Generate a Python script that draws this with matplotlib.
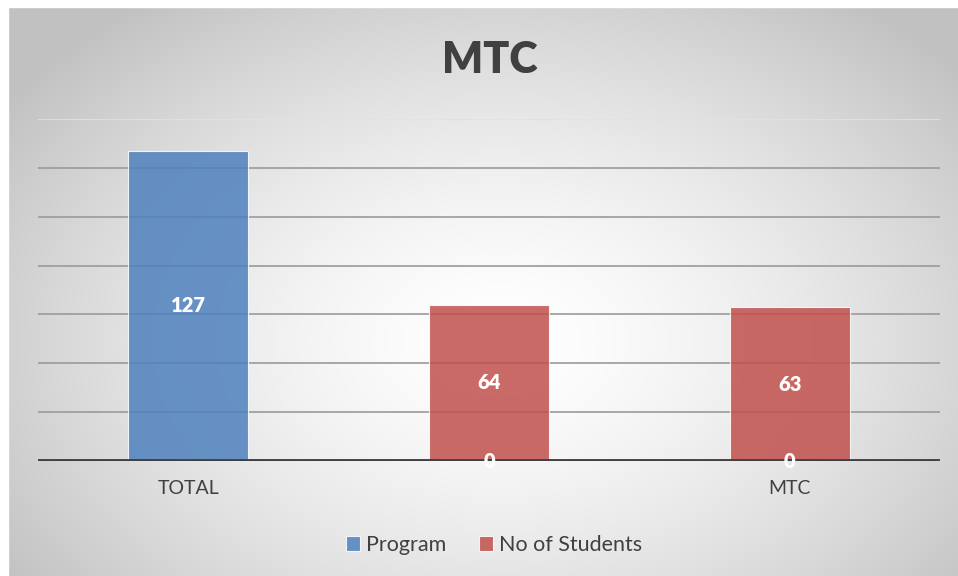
from matplotlib import pyplot as plt
from matplotlib.patches import Rectangle
import numpy as np

plt.rcParams['font.family'] = ['Lato', 'DejaVu Sans']

categories = ['TOTAL', '', 'MTC']
program = [127, 0, 0]
students = [np.nan, 64, 63]
series_names = ['Program', 'No of Students']
colors = ['#4F81BD', '#C0504D']
text_color = '#404040'

fig = plt.figure(figsize=(9.58, 5.76), dpi=100)

# radial grey background of the chart area
bg = fig.add_axes([0, 0, 1, 1], zorder=-10)
h, w = 576, 958
yy, xx = np.mgrid[0:h, 0:w]
r = np.sqrt(((xx - 500) / 600.0) ** 2 + ((yy - 340) / 420.0) ** 2)
shade = 1.0 - 0.24 * np.clip(r, 0, 1) ** 1.5
img = np.dstack([shade, shade, shade])
bg.imshow(img, aspect='auto', extent=(0, w, h, 0))
bg.add_patch(Rectangle((0, 0), w, 7, color='white'))
bg.add_patch(Rectangle((0, 0), 8, h, color='white'))
bg.set_xlim(0, w)
bg.set_ylim(h, 0)
bg.axis('off')

ax = fig.add_axes([38 / w, (h - 461) / h, (940 - 38) / w, (461 - 119) / h])
ax.patch.set_alpha(0)
x = np.arange(len(categories))
bar_w = 0.4

ax.set_ylim(0, 140)
ax.set_xlim(-0.5, len(categories) - 0.5)
for yv in range(20, 141, 20):
    c = '#e2e2e2' if yv == 140 else '#9a9a9a'
    ax.axhline(yv, color=c, lw=1.2, zorder=1)

b1 = ax.bar(x, program, bar_w, color=colors[0], alpha=0.85,
            edgecolor='#ffffff', linewidth=0.8, zorder=2, label=series_names[0])
b2 = ax.bar(x, students, bar_w, color=colors[1], alpha=0.85,
            edgecolor='#ffffff', linewidth=0.8, zorder=2, label=series_names[1])

for bars, vals in ((b1, program), (b2, students)):
    for rect, v in zip(bars, vals):
        if np.isnan(v):
            continue
        ax.text(rect.get_x() + rect.get_width() / 2, v / 2, str(int(v)),
                ha='center', va='center', color='white', fontsize=14.5,
                fontweight='heavy', zorder=5)

ax.axhline(0, color='#404040', lw=3.5, zorder=4)
ax.set_yticks([])
ax.set_xticks(x)
ax.set_xticklabels(categories, fontsize=14, color=text_color)
ax.tick_params(axis='x', length=0, pad=14)
for s in ax.spines.values():
    s.set_visible(False)

fig.text(490 / w, 1 - 60 / h, 'MTC', ha='center', va='center',
         fontsize=31, fontweight='heavy', color=text_color)

fig.legend(handles=[b1, b2], labels=series_names, loc='center',
           bbox_to_anchor=(494 / w, 1 - 545 / h), ncol=2, frameon=False,
           fontsize=15.5, handlelength=0.65, handleheight=0.65,
           handletextpad=0.3, columnspacing=1.5, labelcolor=text_color)

fig.savefig('out.png', dpi=100)
